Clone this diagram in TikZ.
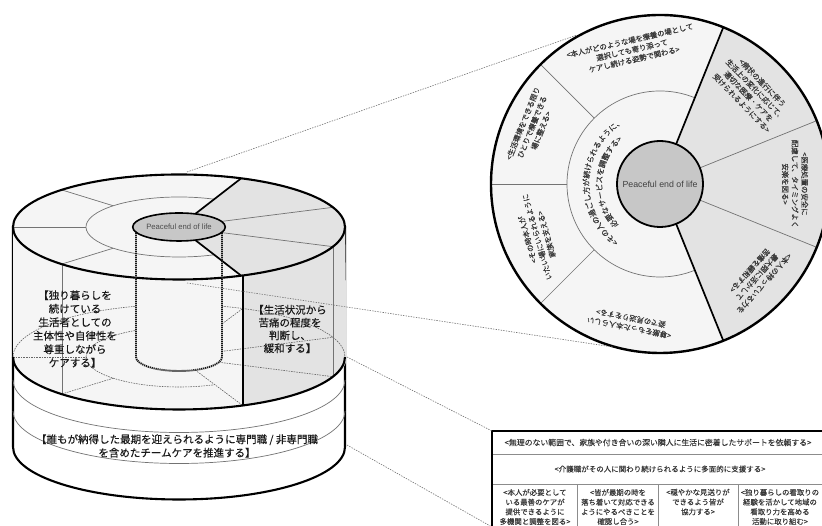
\documentclass[tikz,border=0pt]{standalone}
\usepackage{fontspec}
\setmainfont[FakeBold=0.2]{Noto Sans CJK JP}
\newfontfamily\latinf{Liberation Sans}
\usetikzlibrary{decorations.text,shapes.geometric}
\definecolor{lite}{gray}{0.96}
\definecolor{greyc}{gray}{0.89}
\definecolor{hubc}{gray}{0.78}
\definecolor{inkc}{gray}{0.22}
\tikzset{
  x=1pt,y=1pt,
  heavy/.style={line width=1.7pt,draw=black},
  rim/.style={line width=2.1pt,draw=black},
  thin line/.style={line width=0.7pt,draw=black!55},
  ghost/.style={line width=0.6pt,draw=black!60,dash pattern=on 1.6pt off 1pt},
  core/.style={line width=1.9pt,draw=black!90,dash pattern=on 1.2pt off 0.8pt},
  leader/.style={line width=0.6pt,draw=black!55,dash pattern=on 1.4pt off 1.2pt},
  small/.style={font=\fontsize{7.4}{9.7}\selectfont,align=center,text=inkc,inner sep=0pt},
  big/.style={font=\fontsize{10.5}{13.5}\selectfont,align=center,text=black!90,inner sep=0pt},
  cell/.style={draw=black!45,line width=0.7pt,minimum height=#1,inner sep=0pt,anchor=north west},
}
\begin{document}
\begin{tikzpicture}
\useasboundingbox (0,0) rectangle (822,526);
\fill[white] (0,0) rectangle (822,526);
% ---------- cylinder body
\filldraw[fill=white,rim] (13,299) -- (13,79) arc[start angle=180,end angle=360,x radius=166,y radius=52.5] -- (345,299) -- cycle;
\draw[thin line] (13,146) arc[start angle=180,end angle=360,x radius=166,y radius=52.5];
\draw[thin line] (13,115) arc[start angle=180,end angle=360,x radius=166,y radius=52.5];
\fill[lite] (13,299) -- (13,169) arc[start angle=180,end angle=360,x radius=166,y radius=52.5] -- (345,299) -- cycle;
\fill[greyc] (243,250.3) -- (243,120.3) arc[start angle=292,end angle=360,x radius=166,y radius=52.5] -- (345,299) arc[start angle=360,end angle=292,x radius=166,y radius=52.5] -- cycle;
% ghost lower level
\draw[ghost] (13,169) arc[start angle=180,end angle=0,x radius=166,y radius=52.5];
\draw[ghost] (86,169) arc[start angle=180,end angle=112,x radius=93,y radius=30];
\draw[ghost] (86,169) arc[start angle=180,end angle=292,x radius=93,y radius=30];
\draw[ghost] (13,169) -- (86,169);
\draw[ghost] (179,169) ++(225:93 and 30) -- ++(-51.8,-15.9);
\draw[ghost] (179,169) ++(22:43 and 14) -- (333,188.7);
\draw[ghost] (179,169) ++(-22:43 and 14) -- (333,149.3);
\draw[ghost] (179,169) ++(68:43 and 14) -- (243,217.7);
\draw[ghost] (179,169) ++(-68:43 and 14) -- (243,120.3);
% inner cylinder body
\fill[lite] (136,299) -- (136,169) arc[start angle=180,end angle=360,x radius=43,y radius=14] -- (222,299) -- cycle;
% body verticals
\draw[thin line,line width=0.9pt] (62,261.9) -- (62,131.9);
\draw[thin line,line width=0.9pt] (333,279.3) -- (333,149.3);
\draw[heavy] (243,250.3) -- (243,120.3);
% front rim of the shaded level
\draw[rim] (13,169) arc[start angle=180,end angle=360,x radius=166,y radius=52.5];
% ---------- cylinder top
\fill[lite] (179,299) ellipse[x radius=166,y radius=52.5];
\fill[greyc] (179,299) -- ++(-68:166 and 52.5) arc[start angle=-68,end angle=68,x radius=166,y radius=52.5] -- cycle;
\draw[thin line] (179,299) ++(68:93 and 30) arc[start angle=68,end angle=292,x radius=93,y radius=30];
\draw[thin line] (179,299) ++(135:93 and 30) -- ++(135:73 and 22.5);
\draw[thin line] (86,299) -- (13,299);
\draw[thin line] (179,299) ++(225:93 and 30) -- ++(225:73 and 22.5);
\draw[thin line] (179,299) ++(22:43 and 14) -- ++(22:123 and 38.5);
\draw[thin line] (179,299) ++(-22:43 and 14) -- ++(-22:123 and 38.5);
\draw[heavy] (179,299) ++(68:43 and 14) -- ++(68:123 and 38.5);
\draw[heavy] (179,299) ++(-68:43 and 14) -- ++(-68:123 and 38.5);
\draw[rim] (179,299) ellipse[x radius=166,y radius=52.5];
% inner cylinder outline
\draw[core] (136,299) -- (136,169) arc[start angle=180,end angle=360,x radius=43,y radius=14] -- (222,299);
\node[ellipse,draw=black,line width=1.6pt,fill=hubc,minimum width=86pt,minimum height=28pt,inner sep=0pt,text=black!70,font=\latinf\fontsize{7.7}{9}\selectfont] (tophub) at (179,299) {Peaceful end of life};
% ---------- big circle
\fill[lite] (660,342) circle[radius=169];
\fill[greyc] (660,342) -- ++(-68:169) arc[start angle=-68,end angle=68,radius=169] -- cycle;
\draw[thin line] (660,342) ++(68:93) arc[start angle=68,end angle=292,radius=93];
\draw[thin line] (660,342) ++(135:93) -- ++(135:76);
\draw[thin line] (660,342) ++(180:93) -- ++(180:76);
\draw[thin line] (660,342) ++(225:93) -- ++(225:76);
\draw[thin line] (660,342) ++(22:43) -- ++(22:126);
\draw[thin line] (660,342) ++(-22:43) -- ++(-22:126);
\draw[heavy] (660,342) ++(68:43) -- ++(68:126);
\draw[heavy] (660,342) ++(-68:43) -- ++(-68:126);
\draw[rim,line width=2.4pt] (660,342) circle[radius=169];
\node[circle,draw=black,line width=1.8pt,fill=hubc,minimum size=86pt,inner sep=0pt,text=black!75,font=\latinf\fontsize{8.8}{10}\selectfont] (bighub) at (660,342) {Peaceful end of life};
% sector labels
\node[small,rotate=13] (s1) at (632,476) {<本人がどのような場を療養の場として\\選択しても寄り添って\\ケアし続ける姿勢で関わる>};
\node[small,rotate=68] (s2) at (532,399) {<生活環境をできる限り\\ひとりで療養できる\\場に整える>};
\node[small,rotate=106] (s3) at (537,289) {<その時本人が\\いたい場にいられるように\\家族を支える>};
\node[small,rotate=169] (s4) at (630,203) {<尊厳をもった本人らしい\\姿での見送りをする>};
\node[small,rotate=-132] (s5) at (757,249) {<本人の持っている力を\\最大限に活かして\\苦痛を緩和する>};
\node[small,rotate=-90] (s6) at (795,342) {<医療処置の安全に\\配慮して、タイミングよく\\安楽を図る>};
\node[small,rotate=-46] (s7) at (752,433) {<病状の進行に伴う\\生活上の変化に応じて、\\適切な医療・ケアを\\受けられるようにする>};
% inner curved labels
\path[decorate,decoration={text along path,text align=center,text color=inkc,text={|\fontsize{7.6}{9}\selectfont|<その人の過ごし方が続けられるように、}}] (660,342) ++(245:71) arc[start angle=245,end angle=110,radius=71];
\path[decorate,decoration={text along path,text align=center,text color=inkc,text={|\fontsize{7.6}{9}\selectfont|必要なサービスを調整する>}}] (660,342) ++(245:58) arc[start angle=245,end angle=110,radius=58];
% ---------- cylinder labels
\node[big] (lblleft) at (75,197) {【独り暮らしを\\続けている\\生活者としての\\主体性や自律性を\\尊重しながら\\ケアする】};
\node[big,font=\fontsize{10.5}{12.8}\selectfont] (lblright) at (290,197) {【生活状況から\\苦痛の程度を\\判断し、\\緩和する】};
\node[big] (lblbottom) at (177,80) {【誰もが納得した最期を迎えられるように専門職 / 非専門職\\を含めたチームケアを推進する】};
% ---------- table
\node[cell=23pt,minimum width=332pt] (row1) at (492,95) {};
\node[cell=30pt,minimum width=332pt] (row2) at (492,72) {};
\node[cell=44pt,minimum width=85pt] (c1) at (492,42) {};
\node[cell=44pt,minimum width=81pt] (c2) at (577,42) {};
\node[cell=44pt,minimum width=80pt] (c3) at (658,42) {};
\node[cell=44pt,minimum width=86pt] (c4) at (738,42) {};
\draw[rim,line width=1.9pt] (row1.north east) -- (row1.north west) -- (492,-2);
\node[small,font=\fontsize{7.85}{9.7}\selectfont] (t1) at (658,83.5) {<無理のない範囲で、家族や付き合いの深い隣人に生活に密着したサポートを依頼する>};
\node[small,font=\fontsize{7.5}{9.7}\selectfont] (t2) at (660,57) {<介護職がその人に関わり続けられるように多面的に支援する>};
\node[small] (t3) at (535,19) {<本人が必要として\\いる最善のケアが\\提供できるように\\多機関と調整を図る>};
\node[small] (t4) at (618,19) {<皆が最期の時を\\落ち着いて対応できる\\ようにやるべきことを\\確認し合う>};
\node[small] (t5) at (698,24) {<穏やかな見送りが\\できるよう皆が\\協力する>};
\node[small] (t6) at (780,19) {<独り暮らしの看取りの\\経験を活かして地域の\\看取り力を高める\\活動に取り組む>};
% ---------- leaders
\coordinate (a1) at (187,354);
\coordinate (b1) at (577,491);
\coordinate (a2) at (187,243);
\coordinate (b2) at (613,179);
\coordinate (a3) at (347,169);
\coordinate (a4) at (347,81);
\coordinate (b4) at (492,-1);
\draw[leader] (a1) -- (b1);
\draw[leader] (a2) -- (b2);
\draw[leader] (a3) -- (row1.north west);
\draw[leader] (a4) -- (b4);
\end{tikzpicture}
\end{document}
